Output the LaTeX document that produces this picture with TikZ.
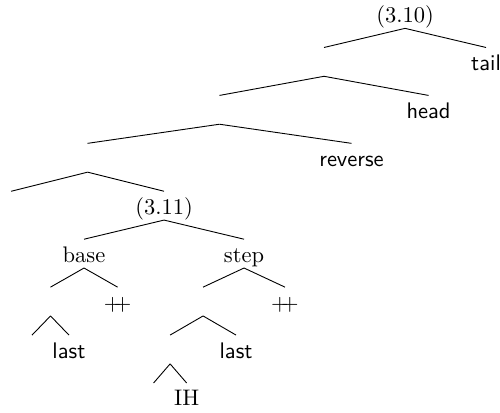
\documentclass[tikz,border=0pt]{standalone}
\usepackage{tikz}
\usetikzlibrary{trees}

\begin{document}
\begin{tikzpicture}[%
  every node/.style={inner sep=0pt, text height=10pt, text depth=2.4pt},
  level distance=21.3pt,
  level 1/.style={sibling distance=72pt},
  level 2/.style={sibling distance=92.9pt},
  level 3/.style={sibling distance=117.3pt},
  level 4/.style={sibling distance=68pt},
  level 5/.style={sibling distance=71.1pt},
  level 8/.style={sibling distance=14.7pt},
  edge from parent path={(\tikzparentnode.south) -- (\tikzchildnode.north)}]
  \useasboundingbox (-180pt,6.2pt) rectangle (42.2pt,-176.9pt);
  \node (eqa) {(3.10)}
    child { node (apptail) {}
        child { node (apphead) {}
            child { node (appreverse) {}
                child { node (fun) {}}
                child { node (eqb) {(3.11)}
                    child { node (base) {base}
                        child [sibling distance=29.8pt] { node (baselhs) {}
                            child [sibling distance=16.4pt] { node (basenil) {}}
                            child [sibling distance=16.4pt] { node (baselast) {\textsf{last}}}
                        }
                        child [sibling distance=29.8pt] { node (baseapp) {$+\!\!+$}}
                    }
                    child { node (step) {step}
                        child [sibling distance=36.4pt] { node (steplhs) {}
                            child [sibling distance=29.3pt] { node (stepih) {}
                                child { node (stepnil) {}}
                                child { node (ih) {IH}}
                            }
                            child [sibling distance=29.3pt] { node (steplast) {\textsf{last}}}
                        }
                        child [sibling distance=36.4pt] { node (stepapp) {$+\!\!+$}}
                    }
                }
            }
            child { node (reverse) {\textsf{reverse}}}
        }
        child { node (head) {\textsf{head}}}
    }
    child { node (tail) {\textsf{tail}}};
\end{tikzpicture}
\end{document}
